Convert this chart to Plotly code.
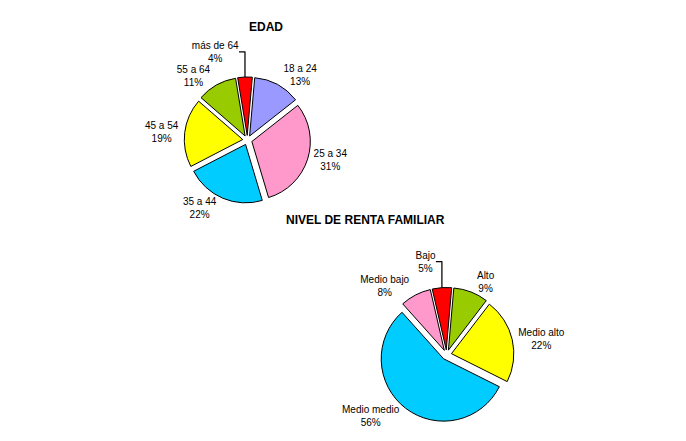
import plotly.graph_objects as go

edad_labels = ["18 a 24", "25 a 34", "35 a 44", "45 a 54", "55 a 64", "más de 64"]
edad_values = [13, 31, 22, 19, 11, 4]
edad_colors = ["#9999FF", "#FF99CC", "#00CCFF", "#FFFF00", "#99CC00", "#FF0000"]

renta_labels = ["Alto", "Medio alto", "Medio medio", "Medio bajo", "Bajo"]
renta_values = [9, 22, 56, 8, 5]
renta_colors = ["#99CC00", "#FFFF00", "#00CCFF", "#FF99CC", "#FF0000"]

fig = go.Figure()
fig.add_trace(go.Pie(
    labels=edad_labels, values=edad_values, sort=False, direction="clockwise",
    rotation=5, pull=0.08,
    marker=dict(colors=edad_colors, line=dict(color="black", width=1)),
    texttemplate="%{label}<br>%{percent:.0%}", textposition="outside",
    domain=dict(x=[0.05, 0.55], y=[0.56, 0.86]),
))
fig.add_trace(go.Pie(
    labels=renta_labels, values=renta_values, sort=False, direction="clockwise",
    rotation=5, pull=0.08,
    marker=dict(colors=renta_colors, line=dict(color="black", width=1)),
    texttemplate="%{label}<br>%{percent:.0%}", textposition="outside",
    domain=dict(x=[0.45, 0.95], y=[0.04, 0.36]),
))
fig.update_layout(
    width=686, height=441, showlegend=False,
    paper_bgcolor="white", plot_bgcolor="white",
    margin=dict(l=10, r=10, t=10, b=10),
    font=dict(family="Liberation Sans, Arial", size=10, color="black"),
    annotations=[
        dict(text="<b>EDAD</b>", x=0.3, y=1.0, xref="paper", yref="paper",
             showarrow=False, font=dict(size=12)),
        dict(text="<b>NIVEL DE RENTA FAMILIAR</b>", x=0.7, y=0.52, xref="paper", yref="paper",
             showarrow=False, font=dict(size=12)),
    ],
)
fig.write_html("out.html")
